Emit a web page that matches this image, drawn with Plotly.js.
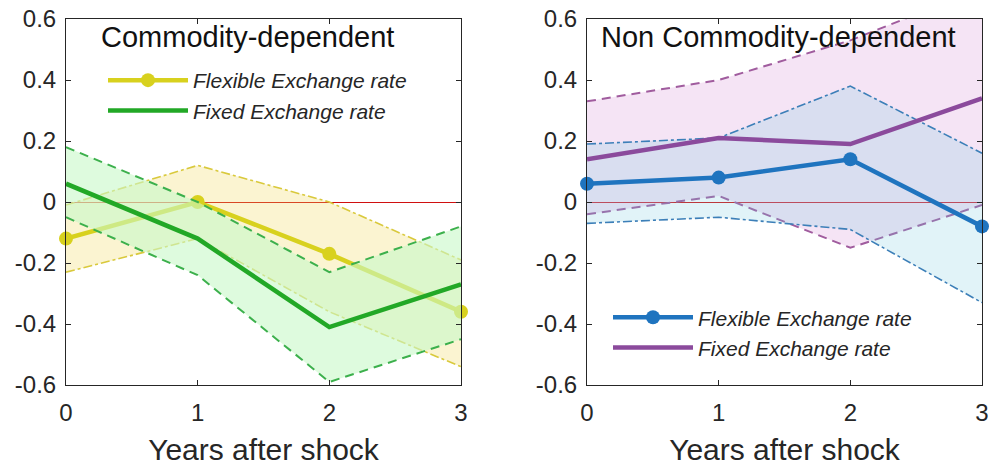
<!DOCTYPE html>
<html>
<head>
<meta charset="utf-8">
<script src="https://cdn.plot.ly/plotly-3.0.1.min.js"></script>
<style>html,body{margin:0;padding:0;background:#fff;}#chart{width:989px;height:470px;}</style>
</head>
<body>
<div id="chart"></div>
<script>
// ---- data ----
const years = [0, 1, 2, 3];
const yTickVals = [-0.6, -0.4, -0.2, 0, 0.2, 0.4, 0.6];
const yTickText = ['-0.6', '-0.4', '-0.2', '0', '0.2', '0.4', '0.6'];
const xTickVals = [0, 1, 2, 3];
const xTickText = ['0', '1', '2', '3'];

// Commodity-dependent
const cdFlex   = [-0.12, 0.00, -0.17, -0.36];
const cdFlexUp = [-0.01, 0.12, 0.00, -0.19];
const cdFlexLo = [-0.23, -0.12, -0.36, -0.54];
const cdFixed   = [0.06, -0.12, -0.41, -0.27];
const cdFixedUp = [0.18, 0.00, -0.23, -0.08];
const cdFixedLo = [-0.05, -0.24, -0.59, -0.45];

// Non commodity-dependent
const ncFlex   = [0.06, 0.08, 0.14, -0.08];
const ncFlexUp = [0.19, 0.21, 0.38, 0.16];
const ncFlexLo = [-0.07, -0.05, -0.09, -0.33];
const ncFixed   = [0.14, 0.21, 0.19, 0.34];
const ncFixedUp = [0.33, 0.40, 0.53, 0.70];
const ncFixedLo = [-0.04, 0.02, -0.15, -0.01];

const panelTitles = ['Commodity-dependent', 'Non Commodity-dependent'];
const seriesNames = ['Flexible Exchange rate', 'Fixed Exchange rate'];
const xTitle = 'Years after shock';

// ---- styles ----
const FONT = 'Liberation Sans, Arial, Helvetica, sans-serif';
const C = {
  yellow: '#d8d11e', yellowEdge: '#d9c93c', yellowFill: 'rgba(240,215,90,0.28)',
  green: '#22a826', greenEdge: '#3cb04c', greenFill: 'rgba(200,248,200,0.6)',
  blue: '#1f74bf', blueEdge: '#3c7fb8', blueFill: 'rgba(120,200,225,0.22)',
  purple: '#8b4a9c', purpleEdge: '#a05c9e', purpleFill: 'rgba(210,130,210,0.22)'
};

function band(lo, up, edgeColor, dash, width, fill, xa, ya) {
  return [
    {x: years, y: lo, type: 'scatter', mode: 'lines', xaxis: xa, yaxis: ya,
     line: {color: edgeColor, dash: dash, width: width}, showlegend: false, hoverinfo: 'skip'},
    {x: years, y: up, type: 'scatter', mode: 'lines', xaxis: xa, yaxis: ya, fill: 'tonexty', fillcolor: fill,
     line: {color: edgeColor, dash: dash, width: width}, showlegend: false, hoverinfo: 'skip'}
  ];
}

const traces = [];
// left panel
traces.push(...band(cdFlexLo, cdFlexUp, C.yellowEdge, 'dashdot', 1.6, C.yellowFill, 'x', 'y'));
traces.push({x: years, y: cdFlex, type: 'scatter', mode: 'lines+markers', name: seriesNames[0],
  xaxis: 'x', yaxis: 'y', legend: 'legend', legendrank: 1, cliponaxis: false,
  line: {color: C.yellow, width: 4.5}, marker: {color: C.yellow, size: 14}});
traces.push(...band(cdFixedLo, cdFixedUp, C.greenEdge, '9px,6px', 2, C.greenFill, 'x', 'y'));
traces.push({x: years, y: cdFixed, type: 'scatter', mode: 'lines', name: seriesNames[1],
  xaxis: 'x', yaxis: 'y', legend: 'legend', legendrank: 2,
  line: {color: C.green, width: 4.5}});
// right panel
traces.push(...band(ncFixedLo, ncFixedUp, C.purpleEdge, '9px,6px', 2, C.purpleFill, 'x2', 'y2'));
traces.push(...band(ncFlexLo, ncFlexUp, C.blueEdge, 'dashdot', 1.6, C.blueFill, 'x2', 'y2'));
traces.push({x: years, y: ncFixed, type: 'scatter', mode: 'lines', name: seriesNames[1],
  xaxis: 'x2', yaxis: 'y2', legend: 'legend2', legendrank: 2,
  line: {color: C.purple, width: 4.5}});
traces.push({x: years, y: ncFlex, type: 'scatter', mode: 'lines+markers', name: seriesNames[0],
  xaxis: 'x2', yaxis: 'y2', legend: 'legend2', legendrank: 1, cliponaxis: false,
  line: {color: C.blue, width: 4.5}, marker: {color: C.blue, size: 14}});

function xAxis(domain, anchor) {
  return {
    domain: domain, anchor: anchor, range: [0, 3], tickvals: xTickVals, ticktext: xTickText,
    ticks: 'inside', ticklen: 5, tickcolor: '#262626', showline: true, linecolor: '#262626', linewidth: 1,
    mirror: 'ticks', showgrid: false, zeroline: false, ticklabelstandoff: 6,
    tickfont: {family: FONT, size: 24, color: '#262626'},
    title: {text: xTitle, font: {family: FONT, size: 30, color: '#262626'}, standoff: 14}
  };
}
function yAxis(anchor) {
  return {
    domain: [0, 1], anchor: anchor, range: [-0.6, 0.6], tickvals: yTickVals, ticktext: yTickText,
    ticks: 'inside', ticklen: 5, tickcolor: '#262626', showline: true, linecolor: '#262626', linewidth: 1,
    mirror: 'ticks', showgrid: false, zeroline: true, zerolinecolor: '#d01010', zerolinewidth: 1,
    ticklabelstandoff: 4,
    tickfont: {family: FONT, size: 24, color: '#262626'}
  };
}

const legendBase = {
  bgcolor: 'rgba(0,0,0,0)', borderwidth: 0, xanchor: 'left', yanchor: 'top',
  font: {family: FONT, size: 21, color: '#262626', style: 'italic'},
  itemwidth: 80, tracegroupgap: 0, traceorder: 'normal'
};

const layout = {
  width: 989, height: 470,
  margin: {l: 0, r: 0, t: 19, b: 85},
  paper_bgcolor: '#ffffff', plot_bgcolor: '#ffffff',
  showlegend: true,
  xaxis: xAxis([66 / 989, 461 / 989], 'y'),
  yaxis: yAxis('x'),
  xaxis2: xAxis([587 / 989, 982 / 989], 'y2'),
  yaxis2: yAxis('x2'),
  legend: Object.assign({}, legendBase, {x: 103 / 989, y: 0.888}),
  legend2: Object.assign({}, legendBase, {x: 608 / 989, y: 0.24}),
  annotations: [
    {text: panelTitles[0], xref: 'paper', yref: 'paper', x: 247 / 989, y: 0.951, xanchor: 'center', yanchor: 'middle',
     showarrow: false, font: {family: FONT, size: 29, color: '#111111'}},
    {text: panelTitles[1], xref: 'paper', yref: 'paper', x: 778 / 989, y: 0.951, xanchor: 'center', yanchor: 'middle',
     showarrow: false, font: {family: FONT, size: 29, color: '#111111'}}
  ]
};

Plotly.newPlot('chart', traces, layout, {displayModeBar: false, staticPlot: true});
</script>
</body>
</html>
